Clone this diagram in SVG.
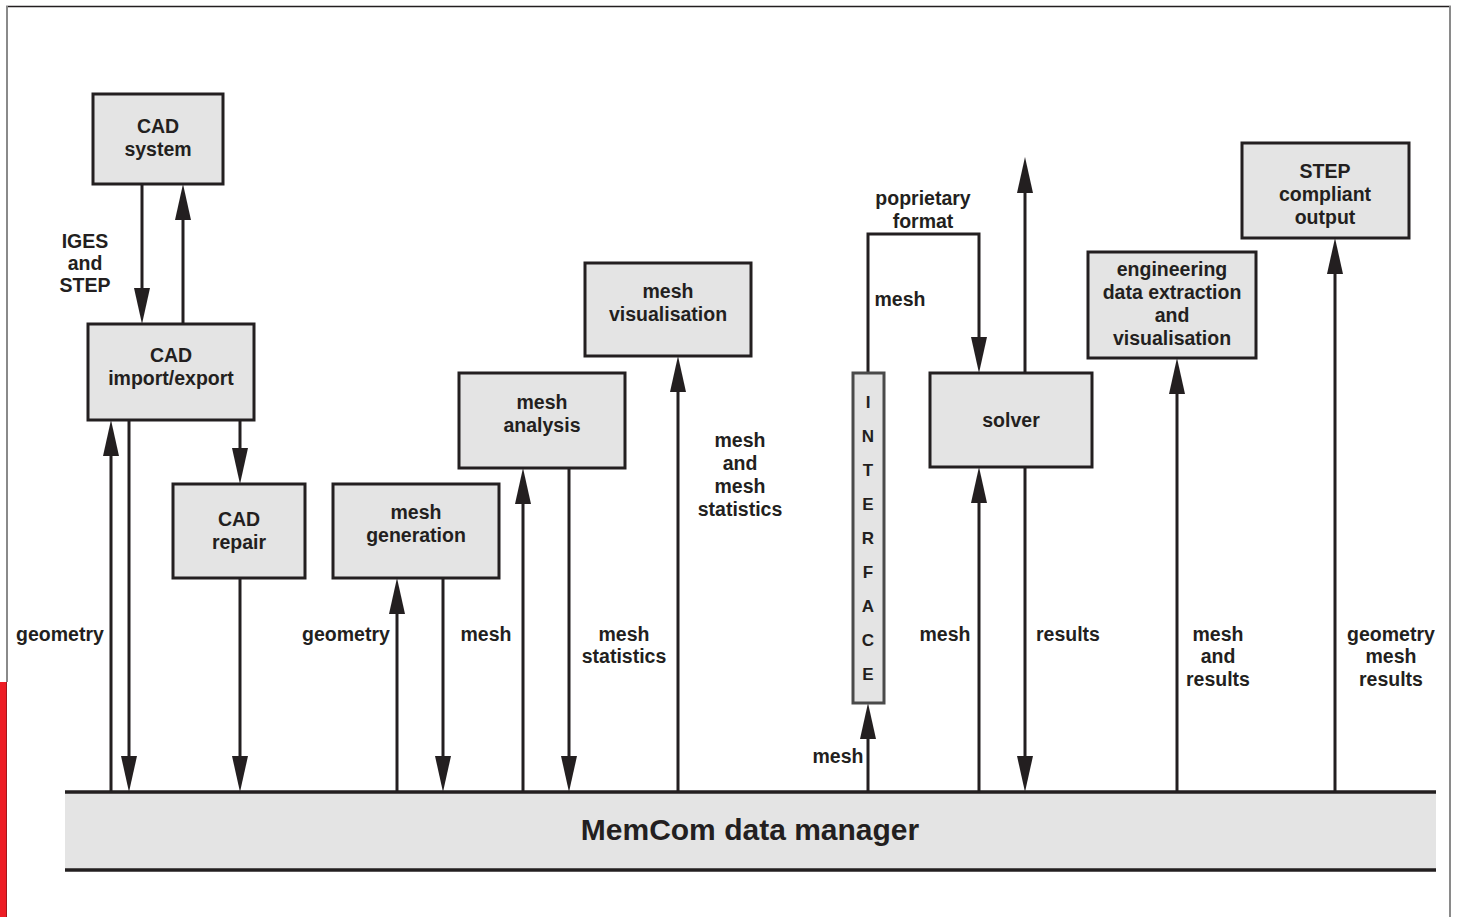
<svg xmlns="http://www.w3.org/2000/svg" width="1458" height="917" viewBox="0 0 1458 917">
<style>
.box{fill:#e4e4e4;stroke:#231f20;stroke-width:3}
.ifc{fill:#e4e4e4;stroke:#4a4a4a;stroke-width:3}
.t{font-family:"Liberation Sans",Arial,sans-serif;font-weight:bold;font-size:19.5px;fill:#231f20;text-anchor:middle}
.ti{font-family:"Liberation Sans",Arial,sans-serif;font-weight:bold;font-size:17px;fill:#231f20;text-anchor:middle}
.c{fill:none;stroke:#231f20;stroke-width:3}
.a{marker-end:url(#ah)}
</style>
<defs>
<marker id="ah" markerUnits="userSpaceOnUse" markerWidth="36" markerHeight="16" viewBox="0 0 36 16" refX="26" refY="8" orient="auto">
<path d="M0,0 L36,8 L0,16 z" fill="#231f20"/>
</marker>
</defs>
<rect width="1458" height="917" fill="#ffffff"/>
<g id="frame">
<line x1="6" y1="6.5" x2="1451" y2="6.5" stroke="#231f20" stroke-width="1.6"/>
<line x1="7" y1="6" x2="7" y2="682" stroke="#8a8a8a" stroke-width="2"/>
<line x1="1450" y1="6" x2="1450" y2="917" stroke="#8a8a8a" stroke-width="2"/>
<rect x="0" y="682" width="7" height="235" fill="#ed1c24"/>
<line x1="6.5" y1="682" x2="6.5" y2="917" stroke="#a3151b" stroke-width="1"/>
</g>
<g id="connectors">
<path class="c a" d="M142,184 V314"/>
<path class="c a" d="M183,324 V194"/>
<path class="c a" d="M111,792 V430"/>
<path class="c a" d="M129,420 V782"/>
<path class="c a" d="M240,420 V474"/>
<path class="c a" d="M240,578 V782"/>
<path class="c a" d="M397,792 V588"/>
<path class="c a" d="M443,578 V782"/>
<path class="c a" d="M523,792 V478"/>
<path class="c a" d="M569,468 V782"/>
<path class="c a" d="M678,792 V366"/>
<path class="c a" d="M868,792 V713"/>
<path class="c a" d="M868,373 V234 H979 V363"/>
<path class="c a" d="M979,792 V477"/>
<path class="c a" d="M1025,467 V782"/>
<path class="c a" d="M1025,373 V167"/>
<path class="c a" d="M1177,792 V368"/>
<path class="c a" d="M1335,792 V248"/>
</g>
<g id="connector-labels">
<text class="t" x="85" y="248">IGES</text>
<text class="t" x="85" y="270">and</text>
<text class="t" x="85" y="292">STEP</text>
<text class="t" x="60" y="641">geometry</text>
<text class="t" x="346" y="641">geometry</text>
<text class="t" x="486" y="641">mesh</text>
<text class="t" x="624" y="641">mesh</text>
<text class="t" x="624" y="663">statistics</text>
<text class="t" x="740" y="447">mesh</text>
<text class="t" x="740" y="470">and</text>
<text class="t" x="740" y="493">mesh</text>
<text class="t" x="740" y="516">statistics</text>
<text class="t" x="838" y="763">mesh</text>
<text class="t" x="900" y="306">mesh</text>
<text class="t" x="923" y="205">poprietary</text>
<text class="t" x="923" y="228">format</text>
<text class="t" x="945" y="641">mesh</text>
<text class="t" x="1068" y="641">results</text>
<text class="t" x="1218" y="641">mesh</text>
<text class="t" x="1218" y="663">and</text>
<text class="t" x="1218" y="686">results</text>
<text class="t" x="1391" y="641">geometry</text>
<text class="t" x="1391" y="663">mesh</text>
<text class="t" x="1391" y="686">results</text>
</g>
<g id="cad-system">
<rect class="box" x="93" y="94" width="130" height="90"/>
<text class="t" x="158" y="133">CAD</text>
<text class="t" x="158" y="156">system</text>
</g>
<g id="cad-import-export">
<rect class="box" x="88" y="324" width="166" height="96"/>
<text class="t" x="171" y="362">CAD</text>
<text class="t" x="171" y="385">import/export</text>
</g>
<g id="cad-repair">
<rect class="box" x="173" y="484" width="132" height="94"/>
<text class="t" x="239" y="526">CAD</text>
<text class="t" x="239" y="549">repair</text>
</g>
<g id="mesh-generation">
<rect class="box" x="333" y="484" width="166" height="94"/>
<text class="t" x="416" y="519">mesh</text>
<text class="t" x="416" y="542">generation</text>
</g>
<g id="mesh-analysis">
<rect class="box" x="459" y="373" width="166" height="95"/>
<text class="t" x="542" y="409">mesh</text>
<text class="t" x="542" y="432">analysis</text>
</g>
<g id="mesh-visualisation">
<rect class="box" x="585" y="263" width="166" height="93"/>
<text class="t" x="668" y="298">mesh</text>
<text class="t" x="668" y="321">visualisation</text>
</g>
<g id="interface">
<rect class="ifc" x="853" y="373" width="31" height="330"/>
<text class="ti" x="868" y="408">I</text>
<text class="ti" x="868" y="442">N</text>
<text class="ti" x="868" y="476">T</text>
<text class="ti" x="868" y="510">E</text>
<text class="ti" x="868" y="544">R</text>
<text class="ti" x="868" y="578">F</text>
<text class="ti" x="868" y="612">A</text>
<text class="ti" x="868" y="646">C</text>
<text class="ti" x="868" y="680">E</text>
</g>
<g id="solver">
<rect class="box" x="930" y="373" width="162" height="94"/>
<text class="t" x="1011" y="427">solver</text>
</g>
<g id="engineering">
<rect class="box" x="1088" y="252" width="168" height="106"/>
<text class="t" x="1172" y="276">engineering</text>
<text class="t" x="1172" y="299">data extraction</text>
<text class="t" x="1172" y="322">and</text>
<text class="t" x="1172" y="345">visualisation</text>
</g>
<g id="step-output">
<rect class="box" x="1242" y="143" width="167" height="95"/>
<text class="t" x="1325" y="178">STEP</text>
<text class="t" x="1325" y="201">compliant</text>
<text class="t" x="1325" y="224">output</text>
</g>
<g id="memcom">
<rect x="65" y="792" width="1371" height="78" fill="#e4e4e4"/>
<line x1="65" y1="792" x2="1436" y2="792" stroke="#231f20" stroke-width="3.5"/>
<line x1="65" y1="870" x2="1436" y2="870" stroke="#231f20" stroke-width="3.5"/>
<text class="t" x="750" y="840" style="font-size:30px">MemCom data manager</text>
</g>
</svg>
